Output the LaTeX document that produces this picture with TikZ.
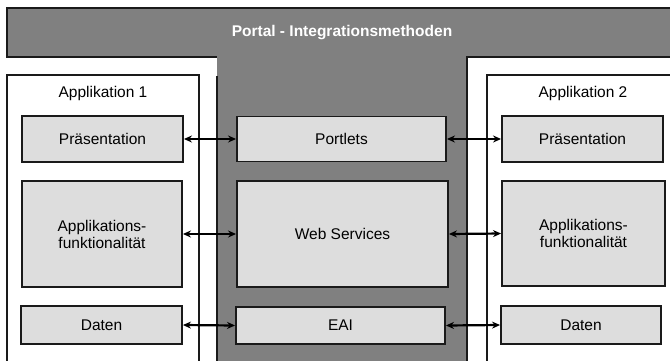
\documentclass[tikz,border=0pt]{standalone}
\usepackage{fontspec}
\setmainfont{Liberation Sans}
\usetikzlibrary{arrows.meta}
\definecolor{portalgrey}{HTML}{808080}
\definecolor{boxgrey}{HTML}{DDDDDD}
\definecolor{edge}{HTML}{1A1A1A}
\tikzset{
  layer/.style={draw=edge, line width=1.3pt, fill=boxgrey, inner sep=0pt,
    font=\fontsize{15.5}{17}\selectfont, align=center},
  rim/.style={draw=edge, line width=1.3pt},
  link/.style={{Stealth[length=8pt,width=7pt]}-{Stealth[length=8pt,width=7pt]},
    line width=2.2pt, draw=black, shorten <=0.3pt, shorten >=0.3pt},
  heading/.style={font=\fontsize{15.5}{17}\selectfont}
}
\begin{document}
\begin{tikzpicture}[x=1pt,y=-1pt]
\useasboundingbox (0,0) rectangle (670,360);
% portal: top bar with central column
\fill[portalgrey] (7,8) -- (672,8) -- (672,57) -- (467,57) -- (467,362)
  -- (217,362) -- (217,57) -- (7,57) -- cycle;
\draw[rim] (672,8) -- (7,8) -- (7,57) -- (217,57);
\draw[rim] (672,57) -- (467,57) -- (467,362);
\draw[rim] (217,76) -- (217,362);
\node[font=\bfseries\fontsize{15.5}{17}\selectfont, text=white] (title) at (342,33) {Portal - Integrationsmethoden};
% application frames
\draw[rim, fill=white] (199,362) -- (199,75) -- (7,75) -- (7,362);
\draw[rim, fill=white] (672,75) -- (487,75) -- (487,362);
\node[heading] (app1) at (103,93) {Applikation 1};
\node[heading] (app2) at (583,93) {Applikation 2};
% layers of application 1
\node[layer, minimum width=161pt, minimum height=46pt] (pres1) at (102.5,139) {Präsentation};
\node[layer, minimum width=160pt, minimum height=106pt] (func1) at (102,234) {Applikations-\\funktionalität};
\node[layer, minimum width=161pt, minimum height=38pt] (data1) at (101.5,325) {Daten};
% integration methods
\node[layer, minimum width=209pt, minimum height=45pt] (portlets) at (341.5,139) {Portlets};
\node[layer, minimum width=211pt, minimum height=106pt] (ws) at (342.5,234) {Web Services};
\node[layer, minimum width=209pt, minimum height=37pt] (eai) at (340.5,325.5) {EAI};
% layers of application 2
\node[layer, minimum width=161pt, minimum height=46pt] (pres2) at (582.5,139) {Präsentation};
\node[layer, minimum width=163pt, minimum height=105pt] (func2) at (583.5,233.5) {Applikations-\\funktionalität};
\node[layer, minimum width=160pt, minimum height=38pt] (data2) at (581,325) {Daten};
% connectors
\draw[link] (pres1.east) -- (portlets.west);
\draw[link] (portlets.east) -- (pres2.west);
\draw[link] (func1.east) -- (ws.west);
\draw[link] (ws.east) -- (func2.west);
\draw[link] (data1.east) -- (eai.west);
\draw[link] (eai.east) -- (data2.west);
\end{tikzpicture}
\end{document}
